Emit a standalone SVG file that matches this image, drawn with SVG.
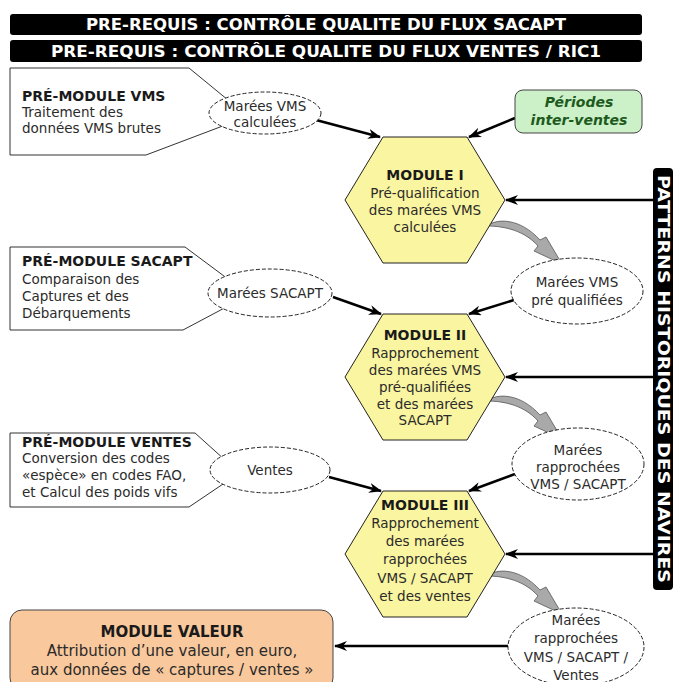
<svg xmlns="http://www.w3.org/2000/svg" width="673" height="682" viewBox="0 0 673 682">
  <defs>
    <marker id="ah" markerWidth="14" markerHeight="10" refX="12" refY="5" orient="auto" markerUnits="userSpaceOnUse">
      <path d="M0,0 L13,5 L0,10 L4,5 Z" fill="#000"/>
    </marker>
    <path id="garrow" d="M 487 226 C 497 218, 520 218, 540 240 L 546 237 L 562 264 L 534 251 L 538 246 C 525 231, 505 226, 487 226 Z"/>
  </defs>
  <style>
    text { font-family: "DejaVu Sans", Verdana, sans-serif; fill: #2b2b2b; }
    .t { font-size: 13.5px; }
    .b { font-size: 14px; font-weight: bold; fill: #1a1a1a; }
    .c { text-anchor: middle; }
    .ban { fill: #000; }
    .bant { font-size: 15px; font-weight: bold; fill: #fff; text-anchor: middle; }
    .call { fill: #fff; stroke: #333; stroke-width: 1; }
    .ell { fill: #fff; stroke: #222; stroke-width: 1; stroke-dasharray: 4 2; }
    .hex { fill: #faf5a0; stroke: #222; stroke-width: 1; }
    .arr { stroke: #000; stroke-width: 2.5; fill: none; marker-end: url(#ah); }
    .g { fill: #a9a9a9; stroke: #555; stroke-width: 0.8; }
    .v { font-size: 15px; }
  </style>

  <g id="banner-sacapt">
    <rect class="ban" x="10" y="14" width="632" height="21" rx="3"/>
    <text class="bant" x="326" y="30" textLength="480" lengthAdjust="spacingAndGlyphs">PRE-REQUIS : CONTRÔLE QUALITE DU FLUX SACAPT</text>
  </g>
  <g id="banner-ventes">
    <rect class="ban" x="10" y="40" width="632" height="22" rx="3"/>
    <text class="bant" x="326" y="57" textLength="550" lengthAdjust="spacingAndGlyphs">PRE-REQUIS : CONTRÔLE QUALITE DU FLUX VENTES / RIC1</text>
  </g>

  <g id="patterns">
    <rect class="ban" x="653" y="168" width="20" height="422" rx="4"/>
    <text class="bant" transform="translate(658,379) rotate(90)" x="0" y="0" textLength="408" lengthAdjust="spacingAndGlyphs">PATTERNS HISTORIQUES DES NAVIRES</text>
  </g>

  <g id="connectors">
    <line class="arr" x1="316" y1="120" x2="380" y2="137"/>
    <line class="arr" x1="515" y1="118" x2="469" y2="137"/>
    <line class="arr" x1="653" y1="200" x2="506" y2="200"/>
    <line class="arr" x1="333" y1="297" x2="381" y2="314"/>
    <line class="arr" x1="514" y1="300" x2="469" y2="314"/>
    <line class="arr" x1="653" y1="377" x2="506" y2="377"/>
    <line class="arr" x1="329" y1="477" x2="381" y2="491"/>
    <line class="arr" x1="515" y1="474" x2="469" y2="491"/>
    <line class="arr" x1="653" y1="554" x2="506" y2="554"/>
    <line class="arr" x1="508" y1="646" x2="335" y2="646"/>
    <use href="#garrow" class="g"/>
    <use href="#garrow" class="g" transform="translate(0,175)"/>
    <use href="#garrow" class="g" transform="translate(0,350)"/>
  </g>

  <g id="premodule-vms">
    <path class="call" d="M10 68 H189 L228 100 L228 124 L146 155 H10 Z"/>
    <text class="b" x="22" y="101">PRÉ-MODULE VMS</text>
    <text class="t" x="22" y="117">Traitement des</text>
    <text class="t" x="22" y="133">données VMS brutes</text>
  </g>
  <g id="marees-vms-calculees">
    <ellipse class="ell" cx="265" cy="113" rx="56" ry="21"/>
    <text class="t c" x="265" y="111">Marées VMS</text>
    <text class="t c" x="265" y="127">calculées</text>
  </g>
  <g id="periodes">
    <rect x="515" y="90" width="127" height="43" rx="8" fill="#ccf0c8" stroke="#444" stroke-width="1"/>
    <text class="c" x="579" y="107" style="font-size:14px;font-weight:bold;font-style:italic;fill:#1d5a1d">Périodes</text>
    <text class="c" x="579" y="125" style="font-size:14px;font-weight:bold;font-style:italic;fill:#1d5a1d">inter-ventes</text>
  </g>

  <g id="module-1">
    <polygon class="hex" points="383,137 467,137 505,200 467,263 383,263 345,200"/>
    <text class="b c" x="425" y="180">MODULE I</text>
    <text class="t c" x="425" y="198">Pré-qualification</text>
    <text class="t c" x="425" y="215">des marées VMS</text>
    <text class="t c" x="425" y="232">calculées</text>
  </g>

  <g id="marees-vms-prequalifiees">
    <ellipse class="ell" cx="577" cy="291" rx="66" ry="33"/>
    <text class="t c" x="577" y="287">Marées VMS</text>
    <text class="t c" x="577" y="305">pré qualifiées</text>
  </g>

  <g id="premodule-sacapt">
    <path class="call" d="M10 247 H185 L232 282 L232 304 L183 330 H10 Z"/>
    <text class="b" x="22" y="266">PRÉ-MODULE SACAPT</text>
    <text class="t" x="22" y="284">Comparaison des</text>
    <text class="t" x="22" y="301">Captures et des</text>
    <text class="t" x="22" y="318">Débarquements</text>
  </g>
  <g id="marees-sacapt">
    <ellipse class="ell" cx="270" cy="293" rx="62" ry="24"/>
    <text class="t c" x="270" y="298">Marées SACAPT</text>
  </g>

  <g id="module-2">
    <polygon class="hex" points="383,314 467,314 505,377 467,440 383,440 345,377"/>
    <text class="b c" x="425" y="340">MODULE II</text>
    <text class="t c" x="425" y="358">Rapprochement</text>
    <text class="t c" x="425" y="375">des marées VMS</text>
    <text class="t c" x="425" y="392">pré-qualifiées</text>
    <text class="t c" x="425" y="409">et des marées</text>
    <text class="t c" x="425" y="425">SACAPT</text>
  </g>

  <g id="marees-rapprochees">
    <ellipse class="ell" cx="578" cy="464" rx="66" ry="36"/>
    <text class="t c" x="578" y="455">Marées</text>
    <text class="t c" x="578" y="472">rapprochées</text>
    <text class="t c" x="578" y="489">VMS / SACAPT</text>
  </g>

  <g id="premodule-ventes">
    <path class="call" d="M10 433 H195 L225 460 L226 482 L189 507 H10 Z"/>
    <text class="b" x="22" y="447">PRÉ-MODULE VENTES</text>
    <text class="t" x="22" y="463">Conversion des codes</text>
    <text class="t" x="22" y="480">«espèce» en codes FAO,</text>
    <text class="t" x="22" y="497">et Calcul des poids vifs</text>
  </g>
  <g id="ventes">
    <ellipse class="ell" cx="270" cy="470" rx="60" ry="23"/>
    <text class="t c" x="270" y="475">Ventes</text>
  </g>

  <g id="module-3">
    <polygon class="hex" points="383,491 467,491 505,554 467,617 383,617 345,554"/>
    <text class="b c" x="425" y="510">MODULE III</text>
    <text class="t c" x="425" y="528">Rapprochement</text>
    <text class="t c" x="425" y="546">des marées</text>
    <text class="t c" x="425" y="564">rapprochées</text>
    <text class="t c" x="425" y="583">VMS / SACAPT</text>
    <text class="t c" x="425" y="601">et des ventes</text>
  </g>

  <g id="marees-rapprochees-ventes">
    <ellipse class="ell" cx="576" cy="647" rx="68" ry="39"/>
    <text class="t c" x="576" y="625">Marées</text>
    <text class="t c" x="576" y="643">rapprochées</text>
    <text class="t c" x="576" y="662">VMS / SACAPT /</text>
    <text class="t c" x="576" y="680">Ventes</text>
  </g>

  <g id="module-valeur">
    <rect x="10" y="610" width="323" height="80" rx="12" fill="#f9c89c" stroke="#444" stroke-width="1"/>
    <text class="b c" x="172" y="637" style="font-size:15px">MODULE VALEUR</text>
    <text class="v c" x="172" y="656">Attribution d’une valeur, en euro,</text>
    <text class="v c" x="172" y="675">aux données de « captures / ventes »</text>
  </g>
</svg>
